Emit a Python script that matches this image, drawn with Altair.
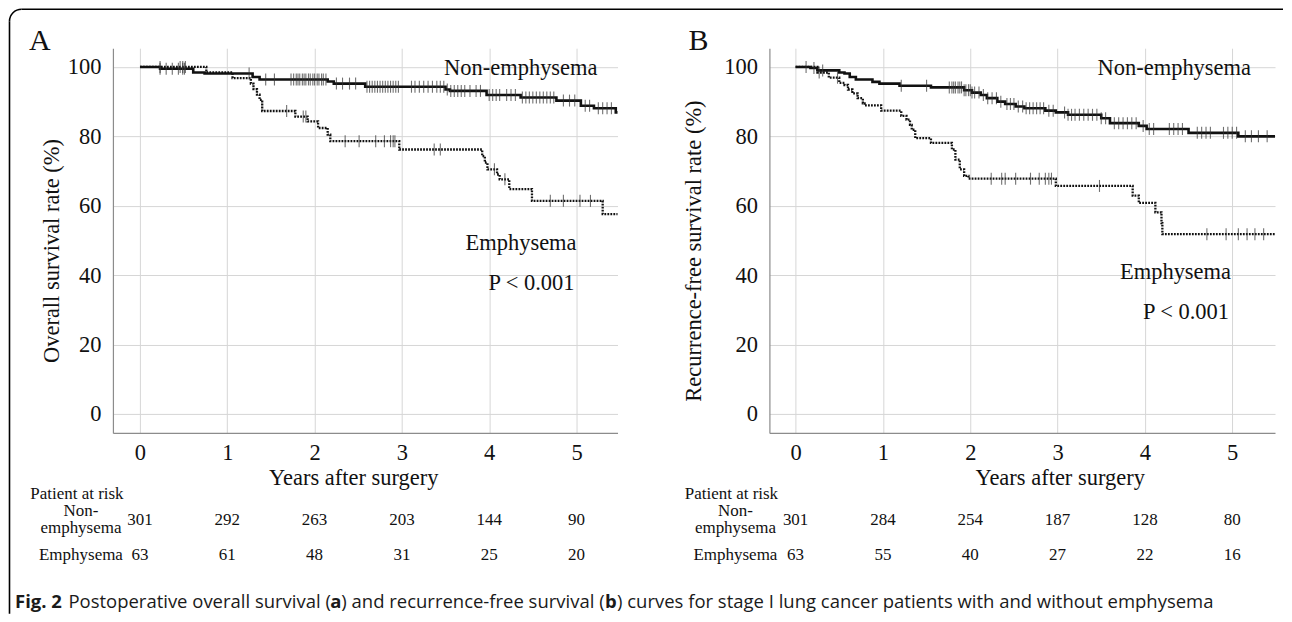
import altair as alt
import pandas as pd

SERIF = "Liberation Serif"
SANS = "Open Sans"
INK = "#111111"
GRID = "#d6d6d6"
AXIS = "#8c8c8c"

YEARS = [0, 1, 2, 3, 4, 5]
Y_TICKS = [0, 20, 40, 60, 80, 100]

# ---------------- Panel A : overall survival ----------------
A_NON_T = [0, 0.23, 0.61, 0.74, 1.29, 1.37, 2.15, 2.22, 2.58, 3.50, 3.55, 3.97, 4.36, 4.77, 5.05, 5.20, 5.45, 5.47]
A_NON_S = [100, 99.5, 98.4, 98.1, 97.1, 96.4, 95.8, 95.2, 94.3, 93.5, 93.1, 91.9, 91.2, 90.3, 88.8, 88.1, 86.9, 86.9]
A_EMP_T = [0, 0.76, 1.06, 1.27, 1.30, 1.34, 1.37, 1.40, 1.78, 1.92, 2.04, 2.15, 2.18, 2.97, 3.92, 3.95, 3.98,
           4.09, 4.12, 4.23, 4.49, 5.30, 5.47]
A_EMP_S = [100, 98.4, 96.8, 95.2, 93.6, 92.0, 90.5, 87.3, 85.7, 84.3, 82.4, 80.5, 78.6, 76.2, 74.3, 72.4, 70.5,
           69.0, 67.6, 64.8, 61.4, 57.6, 57.6]
A_NON_CENS = [0.23, 0.30, 0.37, 0.44, 0.49, 0.51, 1.25, 1.44, 1.54,
              1.73, 1.76, 1.79, 1.81, 1.83, 1.86, 1.88, 1.90, 1.93, 1.95, 1.98, 2.00, 2.03, 2.05, 2.08, 2.10, 2.13,
              2.25, 2.32, 2.40, 2.47,
              2.60, 2.63, 2.66, 2.69, 2.72, 2.75, 2.78, 2.81, 2.84, 2.87, 2.90, 2.93, 2.96,
              3.11, 3.15, 3.20, 3.25, 3.30, 3.35,
              3.40, 3.44, 3.48, 3.52, 3.56, 3.60, 3.64, 3.68, 3.72, 3.78, 3.85, 3.90,
              4.00, 4.04, 4.08, 4.12, 4.20, 4.25, 4.30,
              4.38, 4.42, 4.46, 4.50, 4.54, 4.58, 4.62, 4.66, 4.70, 4.74,
              4.85, 4.92, 4.98, 5.10, 5.15, 5.25, 5.30, 5.35, 5.40]
A_EMP_CENS = [0.23, 0.46, 0.49, 0.52, 1.68, 1.87, 1.90, 2.35, 2.51, 2.70, 2.80, 2.87, 2.90, 2.92,
              3.37, 3.44, 4.06, 4.18, 4.70, 4.85, 5.04, 5.16]
A_NON_RISK = [301, 292, 263, 203, 144, 90]
A_EMP_RISK = [63, 61, 48, 31, 25, 20]

# ---------------- Panel B : recurrence-free survival ----------------
B_NON_T = [0, 0.17, 0.25, 0.50, 0.56, 0.62, 0.69, 0.88, 0.96, 1.19, 1.55, 1.93, 2.02, 2.12, 2.19, 2.31, 2.40,
           2.52, 2.62, 2.86, 2.98, 3.12, 3.50, 3.60, 3.93, 4.02, 4.50, 5.07, 5.49]
B_NON_S = [100, 99.7, 99.0, 98.4, 98.1, 97.1, 96.4, 95.7, 95.2, 94.6, 94.1, 93.3, 92.6, 91.9, 91.0, 90.0, 89.3,
           88.6, 88.1, 87.4, 86.9, 86.2, 85.2, 83.8, 83.0, 82.1, 81.0, 80.0, 80.0]
B_EMP_T = [0, 0.25, 0.38, 0.50, 0.56, 0.60, 0.65, 0.71, 0.77, 0.79, 0.98, 1.21, 1.27, 1.31, 1.33, 1.37, 1.55,
           1.79, 1.83, 1.88, 1.93, 1.98, 2.98, 3.86, 3.93, 4.12, 4.19, 4.20, 5.49]
B_EMP_S = [100, 98.4, 96.9, 95.4, 94.8, 93.5, 92.4, 91.0, 89.5, 88.9, 87.4, 85.9, 84.8, 83.3, 81.9, 79.5, 78.1,
           76.2, 73.3, 70.5, 68.6, 67.8, 65.7, 62.9, 60.8, 58.1, 55.0, 51.8, 51.8]
B_NON_CENS = [0.12, 0.21, 0.31, 1.21, 1.50,
              1.76, 1.79, 1.81, 1.83, 1.86, 1.88, 1.90, 1.93, 1.95, 1.98, 2.00, 2.02,
              2.05, 2.10, 2.15, 2.20, 2.25, 2.30, 2.35,
              2.42, 2.46, 2.50, 2.55, 2.60, 2.64, 2.68, 2.72, 2.76, 2.80, 2.84, 2.90, 2.95,
              3.08, 3.12, 3.16, 3.20, 3.25, 3.30, 3.35, 3.40, 3.45, 3.50, 3.55,
              3.65, 3.70, 3.75, 3.80, 3.85, 3.90, 3.98, 4.05, 4.10,
              4.28, 4.33, 4.38, 4.43, 4.60, 4.65, 4.70, 4.75, 4.90, 4.95, 5.00, 5.05,
              5.15, 5.22, 5.30, 5.40]
B_EMP_CENS = [0.27, 0.48, 2.24, 2.36, 2.40, 2.52, 2.69, 2.79, 2.86, 2.90, 2.93, 3.48,
              4.71, 4.93, 5.07, 5.17, 5.26, 5.36]
B_NON_RISK = [301, 284, 254, 187, 128, 80]
B_EMP_RISK = [63, 55, 40, 27, 22, 16]

CAPTION_PARTS = [
    ("Fig. 2", "bold"),
    ("Postoperative overall survival (", "normal"),
    ("a", "bold"),
    (") and recurrence-free survival (", "normal"),
    ("b", "bold"),
    (") curves for stage I lung cancer patients with and without emphysema", "normal"),
]

ONE = pd.DataFrame({"k": [0]})
Y_DOM = [-5.48, 105.4]
HEIGHT = 385

# vertical positions (relative to the plot top) of the at-risk table
Y_XTITLE = 430
Y_PATIENT = 446
Y_NON1 = 463
Y_NON2 = 480
Y_ROW1 = 472
Y_ROW2 = 507
Y_CAPTION = 554


def step_at(times, surv, t):
    v = surv[0]
    for tt, ss in zip(times, surv):
        if tt <= t:
            v = ss
    return v


def text(s, x, y, size, align="center", font=SERIF, weight="normal", angle=0,
         baseline="middle", color=INK):
    return alt.Chart(ONE).mark_text(
        text=s, align=align, baseline=baseline, font=font, fontSize=size,
        fontWeight=weight, angle=angle, color=color
    ).encode(x=alt.value(x), y=alt.value(y))


def panel(p):
    xs = alt.Scale(domain=p["xdom"], nice=False, zero=False)
    ys = alt.Scale(domain=Y_DOM, nice=False, zero=False)
    x_axis = alt.Axis(values=YEARS, format="d", title=None, grid=True, gridColor=GRID,
                      ticks=False, tickSize=0, domain=True, domainColor=AXIS, domainWidth=1.2,
                      labelFont=SERIF, labelFontSize=22.5, labelColor=INK, labelPadding=9)
    y_axis = alt.Axis(values=Y_TICKS, format="d", title=None, grid=True, gridColor=GRID,
                      ticks=False, tickSize=0, domain=True, domainColor=AXIS, domainWidth=1.2,
                      labelFont=SERIF, labelFontSize=22.5, labelColor=INK, labelPadding=12)
    X = alt.X("t:Q", scale=xs, axis=x_axis)
    Y = alt.Y("s:Q", scale=ys, axis=y_axis)

    non = pd.DataFrame({"t": p["non_t"], "s": p["non_s"]})
    emp = pd.DataFrame({"t": p["emp_t"], "s": p["emp_s"]})
    non_c = pd.DataFrame({"t": p["non_c"],
                          "s": [step_at(p["non_t"], p["non_s"], t) for t in p["non_c"]]})
    emp_c = pd.DataFrame({"t": p["emp_c"],
                          "s": [step_at(p["emp_t"], p["emp_s"], t) for t in p["emp_c"]]})

    layers = list(p.get("pre", []))

    layers.append(alt.Chart(emp).mark_line(
        interpolate="step-after", color=INK, strokeWidth=2.3, strokeDash=[1.8, 1.2]
    ).encode(x=X, y=Y))
    layers.append(alt.Chart(non).mark_line(
        interpolate="step-after", color=INK, strokeWidth=2.6
    ).encode(x=X, y=Y))
    for cdf in (emp_c, non_c):
        layers.append(alt.Chart(cdf).mark_tick(
            orient="vertical", size=12, thickness=1.1, color="#333333"
        ).encode(x=X, y=Y))

    # annotations inside the plot
    layers.append(text("Non-emphysema", p["non_lab_x"], 20, 22.5, align="right"))
    layers.append(text("Emphysema", p["emp_lab_x"], p["emp_lab_y"], 22.5, align="right"))
    layers.append(text("P < 0.001", p["emp_lab_x"] - 2, p["emp_lab_y"] + 40, 22.5, align="right"))

    # panel letter and axis titles
    layers.append(text(p["letter"], p["letter_x"], 2, 30, align="left", baseline="alphabetic"))
    layers.append(text(p["ytitle"], p["ytitle_x"], 203, 22.5, angle=270))
    layers.append(text("Years after surgery", p["xtitle_x"], Y_XTITLE, 22.5))

    # patients at risk table
    layers.append(text("Patient at risk", p["risk_lab_x"] - 4, Y_PATIENT, 17))
    layers.append(text("Non-", p["risk_lab_x"], Y_NON1, 17))
    layers.append(text("emphysema", p["risk_lab_x"], Y_NON2, 17))
    layers.append(text("Emphysema", p["risk_lab_x"], Y_ROW2, 17))
    for vals, yy in ((p["risk_non"], Y_ROW1), (p["risk_emp"], Y_ROW2)):
        rdf = pd.DataFrame({"t": YEARS, "n": [str(v) for v in vals]})
        layers.append(alt.Chart(rdf).mark_text(
            font=SERIF, fontSize=17, color=INK, baseline="middle"
        ).encode(x=X, y=alt.value(yy), text="n:N"))

    layers += list(p.get("post", []))
    return alt.layer(*layers).properties(width=p["width"], height=HEIGHT)


# outer frame (top and left edges with rounded corner) and chart bounds, in panel-A coords
frame = [
    alt.Chart(ONE).mark_rect(opacity=0).encode(
        x=alt.value(-105), x2=alt.value(1171), y=alt.value(-40), y2=alt.value(566)),
    alt.Chart(ONE).mark_rule(color="black", strokeWidth=1.6).encode(
        x=alt.value(-91.5), x2=alt.value(1171), y=alt.value(-39)),
    alt.Chart(ONE).mark_rule(color="black", strokeWidth=1.6).encode(
        x=alt.value(-103.5), y=alt.value(-27), y2=alt.value(566)),
    alt.Chart(ONE).mark_arc(innerRadius=11.2, outerRadius=12.8, theta=4.712389,
                            theta2=6.283185, color="black").encode(
        x=alt.value(-91.5), y=alt.value(-27)),
]

caption_x = [-98, -44.5, 217.5, 228.6, 492.4, 504.5]
caption = [
    text(s, cx, Y_CAPTION, 18.5, align="left", font=SANS, weight=w, color="#1a1a1a")
    for (s, w), cx in zip(CAPTION_PARTS, caption_x)
]

panel_a = panel(dict(
    xdom=[-0.31, 5.47], width=505,
    non_t=A_NON_T, non_s=A_NON_S, emp_t=A_EMP_T, emp_s=A_EMP_S,
    non_c=A_NON_CENS, emp_c=A_EMP_CENS,
    non_lab_x=485, emp_lab_x=464, emp_lab_y=195,
    letter="A", letter_x=-84, ytitle="Overall survival rate (%)", ytitle_x=-61,
    xtitle_x=241, risk_lab_x=-32,
    risk_non=A_NON_RISK, risk_emp=A_EMP_RISK,
    pre=frame, post=caption,
))

panel_b = panel(dict(
    xdom=[-0.30, 5.49], width=506,
    non_t=B_NON_T, non_s=B_NON_S, emp_t=B_EMP_T, emp_s=B_EMP_S,
    non_c=B_NON_CENS, emp_c=B_EMP_CENS,
    non_lab_x=482, emp_lab_x=462, emp_lab_y=224,
    letter="B", letter_x=-81, ytitle="Recurrence-free survival rate (%)", ytitle_x=-75,
    xtitle_x=291, risk_lab_x=-34,
    risk_non=B_NON_RISK, risk_emp=B_EMP_RISK,
))

chart = alt.hconcat(panel_a, panel_b, spacing=152, bounds="flush").properties(
    padding=0, background="white"
).configure_view(strokeWidth=0)

chart.save("out.html", embed_options={"renderer": "svg", "actions": False})
